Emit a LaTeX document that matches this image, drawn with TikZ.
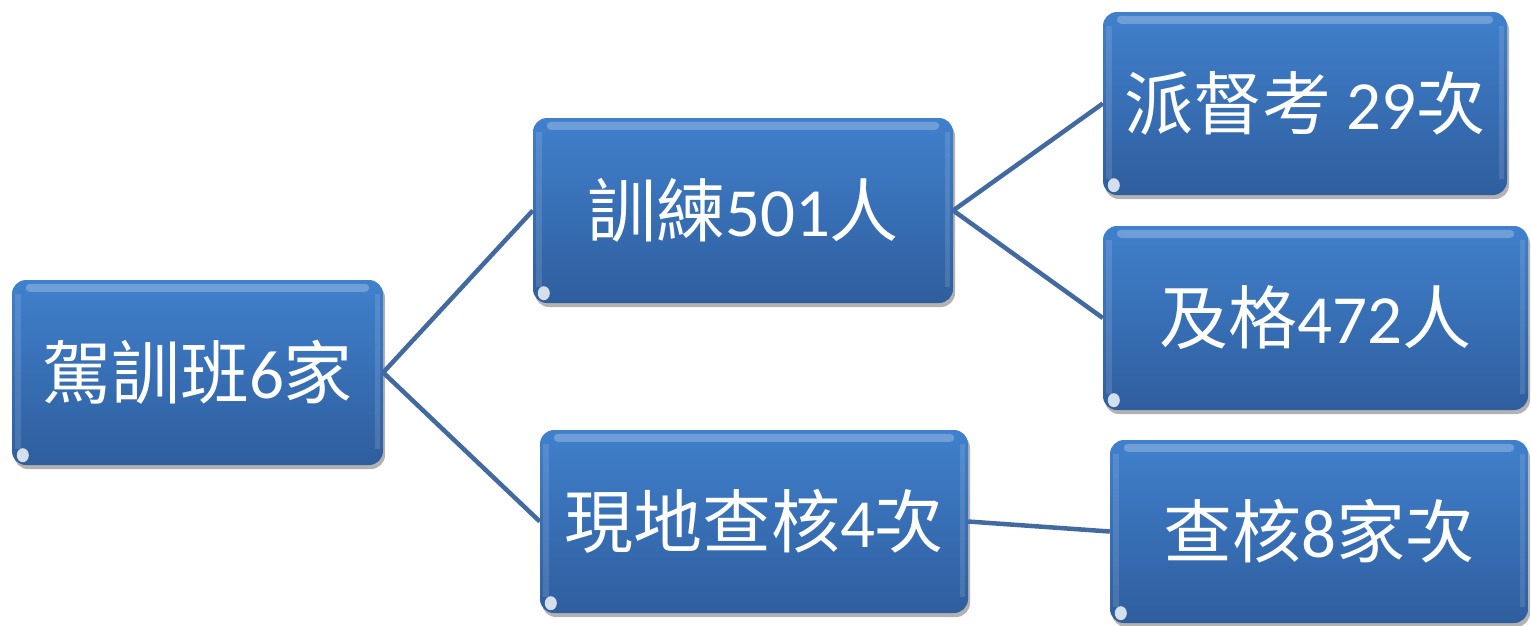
\documentclass[tikz,border=0pt]{standalone}
\usepackage{fontspec}
\setmainfont{Carlito}
\newfontfamily\cjk{Noto Sans CJK TC}
\usetikzlibrary{shadows}
\definecolor{boxtop}{RGB}{64,128,204}
\definecolor{boxbot}{RGB}{47,94,158}
\definecolor{conn}{RGB}{66,106,160}
\newcommand\zh[1]{{\cjk #1}}
\newcommand\glossy[1]{%
  \fill[white,opacity=0.25,rounded corners=4pt] ([xshift=14pt,yshift=-4pt]#1.north west) rectangle ([xshift=-14pt,yshift=-12pt]#1.north east);
  \fill[white,opacity=0.12] ([xshift=3pt,yshift=-14pt]#1.north west) rectangle ([xshift=9pt,yshift=16pt]#1.south west);
  \fill[white,opacity=0.12] ([xshift=-3pt,yshift=-14pt]#1.north east) rectangle ([xshift=-8pt,yshift=16pt]#1.south east);
  \fill[white,opacity=0.8] ([xshift=11pt,yshift=10pt]#1.south west) ellipse (6pt and 7pt);
}
\tikzset{
  box/.style={rounded corners=14pt, top color=boxtop, bottom color=boxbot,
    text=white, inner sep=0pt, font=\fontsize{69}{74}\selectfont,
    drop shadow={shadow xshift=2pt, shadow yshift=-4pt, opacity=0.3, fill=black}},
  link/.style={draw=conn, line width=4.5pt}
}
\begin{document}
\begin{tikzpicture}[x=1pt,y=-1pt]
\useasboundingbox (0,0) rectangle (1531,625);
\node[box, minimum width=371pt, minimum height=185pt] (root) at (197.5,372.5) {\zh{駕訓班}6\zh{家}};
\node[box, minimum width=420pt, minimum height=185pt] (train) at (743,210.5) {\zh{訓練}501\zh{人}};
\node[box, minimum width=428pt, minimum height=183pt] (site) at (754,521.5) {\zh{現地查核}4\zh{次}};
\node[box, minimum width=404pt, minimum height=183pt] (exam) at (1305,103.5) {\zh{派督考} 29\zh{次}};
\node[box, minimum width=425pt, minimum height=184pt] (pass) at (1315.5,318) {\zh{及格}472\zh{人}};
\node[box, minimum width=418pt, minimum height=183pt] (check) at (1319,531.5) {\zh{查核}8\zh{家次}};
\foreach \n in {root,train,site,exam,pass,check} {\glossy{\n}}
\draw[link] (root.east) -- (train.west);
\draw[link] (root.east) -- (site.west);
\draw[link] (train.east) -- (exam.west);
\draw[link] (train.east) -- (pass.west);
\draw[link] (site.east) -- (check.west);
\end{tikzpicture}
\end{document}
